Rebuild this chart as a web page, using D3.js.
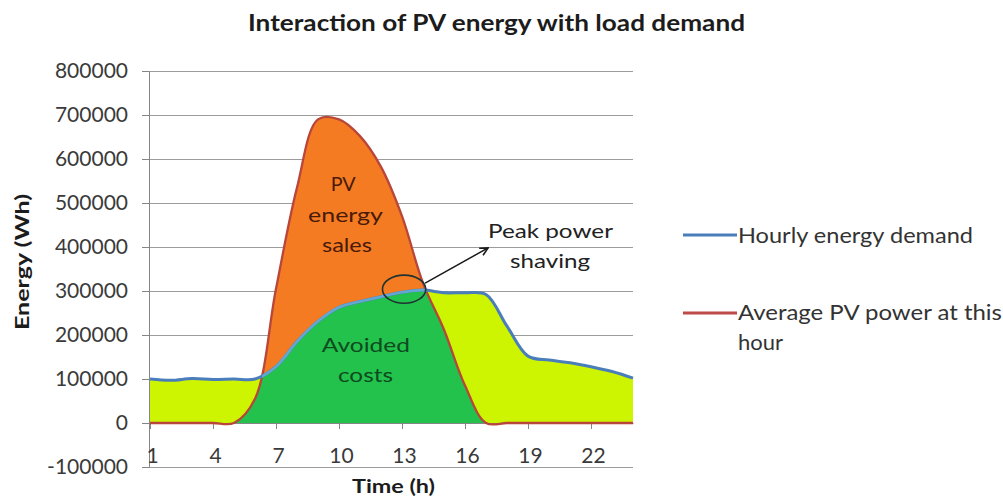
<!DOCTYPE html>
<html>
<head>
<meta charset="utf-8">
<script src="https://cdn.jsdelivr.net/npm/d3@7"></script>
<style>
  html, body { margin: 0; padding: 0; background: #ffffff; }
  svg { display: block; }
</style>
</head>
<body>
<svg id="chart" width="1003" height="502"></svg>
<script>
// ---------------- data ----------------
const hours = [1, 2, 3, 4, 5, 6, 7, 8, 9, 10, 11, 12, 13, 14, 15, 16, 17, 18, 19, 20, 21, 22, 23, 24];
const hourlyDemand = [100000, 97000, 101000, 99000, 100000, 100000, 128000, 185000, 231000, 263000, 276000, 287000,
                      297000, 302000, 296000, 296000, 292000, 220000, 152000, 143000, 137000, 128000, 117000, 102000];
const pvPower = [0, 0, 0, 0, 0, 55000, 305000, 535000, 690000, 690000, 652000, 582000,
                 470000, 318000, 212000, 85000, 0, 0, 0, 0, 0, 0, 0, 0];
const yTickValues = [-100000, 0, 100000, 200000, 300000, 400000, 500000, 600000, 700000, 800000];
const xTickValues = [1, 4, 7, 10, 13, 16, 19, 22];
const seriesNames = ["Hourly energy demand", "Average PV power at this", "hour"];
const chartTitle = "Interaction of PV energy with load demand";
const xTitle = "Time (h)";
const yTitle = "Energy (Wh)";
// region labels, placed in data units (hour, Wh) with target width
const pvLabels = [["PV", 10.2, 527000, 25], ["energy", 10.31, 457000, 75], ["sales", 10.38, 389000, 50]];
const avoidedLabels = [["Avoided", 11.28, 161000, 88], ["costs", 11.26, 93000, 55]];
const peakLabels = [["Peak power", 20.07, 420000, 125], ["shaving", 20.05, 352000, 80]];
const peakEllipse = { h: 13.1, v: 304000, dh: 1.03, dv: 32000 };
const peakArrow = { h1: 14.1, v1: 318000, h2: 17.1, v2: 398000 };

// ---------------- setup ----------------
const FONT = "Lato, 'Open Sans', sans-serif";
const svg = d3.select("#chart");
const x = d3.scaleLinear().domain([1, 24]).range([150, 633]);
const y = d3.scaleLinear().domain([-100000, 800000]).range([467, 71]);
const plotLeft = 149, plotRight = 633;

const rows = hours.map((h, i) => ({ h, d: hourlyDemand[i], p: pvPower[i] }));
const curve = d3.curveCatmullRom.alpha(0.5);

function fit(sel, len) {
  return sel.attr("textLength", len).attr("lengthAdjust", "spacingAndGlyphs");
}

// ---------------- title ----------------
fit(svg.append("text")
  .attr("x", 496.5).attr("y", 31)
  .attr("text-anchor", "middle")
  .attr("font-family", FONT).attr("font-size", 22).attr("font-weight", "bold")
  .attr("fill", "#1c1c1c")
  .text(chartTitle), 497);

// ---------------- gridlines ----------------
svg.append("g").selectAll("line").data(yTickValues).join("line")
  .attr("x1", plotLeft).attr("x2", plotRight)
  .attr("y1", d => y(d)).attr("y2", d => y(d))
  .attr("stroke", "#9c9c9c").attr("stroke-width", 1)
  .attr("shape-rendering", "crispEdges");

// ---------------- areas ----------------
const areaDemand = d3.area().x(r => x(r.h)).y0(y(0)).y1(r => y(r.d)).curve(curve);
const areaPV = d3.area().x(r => x(r.h)).y0(y(0)).y1(r => y(r.p)).curve(curve);
const lineDemand = d3.line().x(r => x(r.h)).y(r => y(r.d)).curve(curve);
const linePV = d3.line().x(r => x(r.h)).y(r => y(r.p)).curve(curve);

const defs = svg.append("defs");
defs.append("clipPath").attr("id", "clipDemand").append("path").attr("d", areaDemand(rows));
defs.append("clipPath").attr("id", "clipPV").append("path").attr("d", areaPV(rows));
defs.append("marker")
  .attr("id", "arrowHead").attr("viewBox", "0 0 10 10")
  .attr("refX", 9).attr("refY", 5)
  .attr("markerWidth", 10).attr("markerHeight", 10)
  .attr("markerUnits", "userSpaceOnUse")
  .attr("orient", "auto")
  .append("path").attr("d", "M1,1 L9,5 L1,9")
  .attr("fill", "none").attr("stroke", "#1a1a1a").attr("stroke-width", 1.6);

svg.append("path").attr("d", areaDemand(rows)).attr("fill", "#cdf400");
svg.append("path").attr("d", areaPV(rows)).attr("fill", "#f47b22");
svg.append("path").attr("d", areaPV(rows)).attr("fill", "#22c24c").attr("clip-path", "url(#clipDemand)");

// ---------------- axes ----------------
const yAxis = svg.append("g")
  .attr("transform", `translate(${plotLeft},0)`)
  .call(d3.axisLeft(y).tickValues(yTickValues).tickSize(7).tickPadding(14).tickSizeOuter(0)
    .tickFormat(d => String(d)));
yAxis.select(".domain").attr("stroke", "#868686");
yAxis.selectAll(".tick line").attr("stroke", "#868686");
yAxis.selectAll("text").attr("font-family", FONT).attr("font-size", 21).attr("fill", "#3a3a3a");

const xAxis = svg.append("g")
  .attr("transform", `translate(0,${y(0)})`)
  .call(d3.axisBottom(x).tickValues(xTickValues).tickSize(6).tickSizeOuter(0).tickFormat(d => String(d)));
xAxis.select(".domain").attr("stroke", "#868686");
xAxis.selectAll(".tick line").attr("stroke", "#868686");
xAxis.selectAll("text").attr("font-family", FONT).attr("font-size", 21).attr("fill", "#3a3a3a")
  .attr("y", 40).attr("dy", 0).attr("dx", 2);

// ---------------- series lines ----------------
svg.append("path").attr("d", linePV(rows)).attr("fill", "none")
  .attr("stroke", "#b8463b").attr("stroke-width", 2.3);
svg.append("path").attr("d", lineDemand(rows)).attr("fill", "none")
  .attr("stroke", "#4a7ebb").attr("stroke-width", 3);
svg.append("path").attr("d", lineDemand(rows)).attr("fill", "none")
  .attr("stroke", "#62a8d2").attr("stroke-width", 2.6).attr("clip-path", "url(#clipPV)");

// ---------------- region labels ----------------
function labels(list, color) {
  list.forEach(([t, h, v, w]) => {
    fit(svg.append("text")
      .attr("x", x(h)).attr("y", y(v))
      .attr("text-anchor", "middle")
      .attr("font-family", FONT).attr("font-size", 20)
      .attr("fill", color)
      .text(t), w);
  });
}
labels(pvLabels, "#4a1a08");
labels(avoidedLabels, "#0e4a1e");
labels(peakLabels, "#222222");

// ellipse + arrow (peak power shaving)
svg.append("ellipse")
  .attr("cx", x(peakEllipse.h)).attr("cy", y(peakEllipse.v))
  .attr("rx", x(peakEllipse.h + peakEllipse.dh) - x(peakEllipse.h))
  .attr("ry", y(peakEllipse.v - peakEllipse.dv) - y(peakEllipse.v))
  .attr("fill", "none").attr("stroke", "#1f3333").attr("stroke-width", 1.6);
svg.append("line")
  .attr("x1", x(peakArrow.h1)).attr("y1", y(peakArrow.v1))
  .attr("x2", x(peakArrow.h2)).attr("y2", y(peakArrow.v2))
  .attr("stroke", "#1a1a1a").attr("stroke-width", 1.5)
  .attr("marker-end", "url(#arrowHead)");

// ---------------- axis titles ----------------
fit(svg.append("text")
  .attr("x", 393.5).attr("y", 493)
  .attr("text-anchor", "middle")
  .attr("font-family", FONT).attr("font-size", 19).attr("font-weight", "bold")
  .attr("fill", "#1c1c1c")
  .text(xTitle), 83);
fit(svg.append("text")
  .attr("transform", "translate(29,262) rotate(-90)")
  .attr("text-anchor", "middle")
  .attr("font-family", FONT).attr("font-size", 18).attr("font-weight", "bold")
  .attr("fill", "#1c1c1c")
  .text(yTitle), 136);

// ---------------- legend ----------------
const legend = svg.append("g");
legend.append("line").attr("x1", 683).attr("x2", 737).attr("y1", 235).attr("y2", 235)
  .attr("stroke", "#4a7ebb").attr("stroke-width", 3);
legend.append("line").attr("x1", 683).attr("x2", 737).attr("y1", 313).attr("y2", 313)
  .attr("stroke", "#be4b48").attr("stroke-width", 3);
const legendText = [[seriesNames[0], 243, 235], [seriesNames[1], 320, 264], [seriesNames[2], 350, 45]];
legendText.forEach(([t, yy, w]) => {
  fit(legend.append("text")
    .attr("x", 738).attr("y", yy)
    .attr("font-family", FONT).attr("font-size", 21)
    .attr("fill", "#333333")
    .text(t), w);
});
</script>
</body>
</html>
